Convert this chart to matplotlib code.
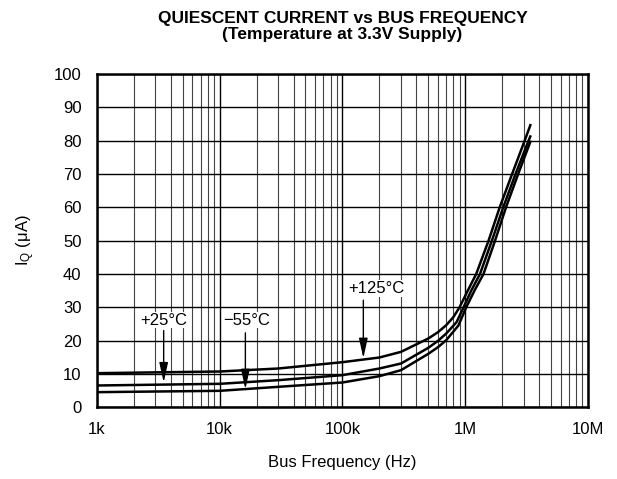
import numpy as np
import matplotlib
matplotlib.use("Agg")
import matplotlib.pyplot as plt
from matplotlib.ticker import LogLocator, FixedLocator, NullFormatter

plt.rcParams["font.family"] = ["Liberation Sans", "DejaVu Sans"]
plt.rcParams["mathtext.default"] = "regular"

# --- dados ---
freq_125 = [1e3, 1e4, 3e4, 1e5, 2e5, 3e5, 5e5, 6e5, 7e5, 8e5, 9e5, 1.05e6, 1.23e6, 1.55e6, 1.91e6, 2.41e6, 3.05e6, 3.42e6]
iq_125 = [10.2, 10.7, 11.6, 13.5, 14.9, 16.6, 20.6, 22.5, 24.6, 27, 30, 35, 40, 50, 60, 70, 80, 85]

freq_25 = [1e3, 1e4, 3e4, 1e5, 2e5, 3e5, 5e5, 6e5, 7e5, 8.5e5, 9.7e5, 1.12e6, 1.32e6, 1.65e6, 2.04e6, 2.57e6, 3.28e6, 3.42e6]
iq_25 = [6.5, 7.0, 8.1, 9.6, 11.6, 13.1, 17.8, 19.9, 22.1, 25.5, 30, 35, 40, 50, 60, 70, 80, 81.6]

freq_m55 = [1e3, 1e4, 3e4, 1e5, 2e5, 3e5, 5e5, 6e5, 7e5, 8.8e5, 1.02e6, 1.19e6, 1.41e6, 1.75e6, 2.15e6, 2.7e6, 3.42e6]
iq_m55 = [4.5, 4.9, 6.1, 7.4, 9.3, 11.1, 16.0, 18.0, 20.1, 24.5, 30, 35, 40, 50, 60, 70, 80]

x_ticks = [1e3, 1e4, 1e5, 1e6, 1e7]
x_labels = ["1k", "10k", "100k", "1M", "10M"]
y_ticks = list(range(0, 101, 10))

# rotulos: (texto, x texto, y texto, x seta, y inicio, y ponta)
labels = [
    ("+25°C", 3.5e3, 26.1, 3.5e3, 23.0, 7.4),
    ("\u221255°C", 16.5e3, 26.1, 16.2e3, 22.3, 5.4),
    ("+125°C", 1.88e5, 35.6, 1.48e5, 32.1, 14.7),
]

fig = plt.figure(figsize=(6.17, 4.79), dpi=100)
ax = fig.add_axes([0.157, 0.150, 0.796, 0.6955])

ax.set_xscale("log")
ax.set_xlim(1e3, 1e7)
ax.set_ylim(0, 100)

# grade
ax.xaxis.set_major_locator(FixedLocator(x_ticks))
ax.xaxis.set_minor_locator(LogLocator(base=10, subs=np.arange(2, 10)))
ax.xaxis.set_minor_formatter(NullFormatter())
ax.set_xticks(x_ticks)
ax.set_xticklabels(x_labels)
ax.set_yticks(y_ticks)
ax.grid(True, which="major", color="black", linewidth=1.0)
ax.grid(True, which="minor", axis="x", color="#444444", linewidth=0.8)
ax.tick_params(which="both", length=0, labelsize=12, pad=11)
ax.tick_params(axis="y", pad=11)
for s in ax.spines.values():
    s.set_linewidth(1.8)
    s.set_zorder(5)

for f, v in [(freq_125, iq_125), (freq_25, iq_25), (freq_m55, iq_m55)]:
    ax.plot(f, v, color="black", linewidth=1.8, solid_capstyle="butt",
            solid_joinstyle="round", zorder=3)

for txt, tx, ty, ax_x, y0, y1 in labels:
    ax.text(tx, ty, txt, ha="center", va="center", fontsize=12,
            bbox=dict(facecolor="white", edgecolor="none", pad=0.5), zorder=4)
    ax.annotate("", xy=(ax_x, y1), xytext=(ax_x, y0),
                arrowprops=dict(arrowstyle="-|>,head_length=1.0,head_width=0.22",
                                color="black", lw=1.0, shrinkA=0, shrinkB=0,
                                mutation_scale=12), zorder=4)

ax.set_xlabel("Bus Frequency (Hz)", fontsize=12, labelpad=13)
ax.set_ylabel(r"I$_{Q}$ ($\mu$A)", fontsize=12, labelpad=12)
fig.text(0.555, 0.978, "QUIESCENT CURRENT vs BUS FREQUENCY\n(Temperature at 3.3V Supply)",
         ha="center", va="top", fontsize=12.5, fontweight="bold", linespacing=1.15)

fig.savefig("out.png", dpi=100)
